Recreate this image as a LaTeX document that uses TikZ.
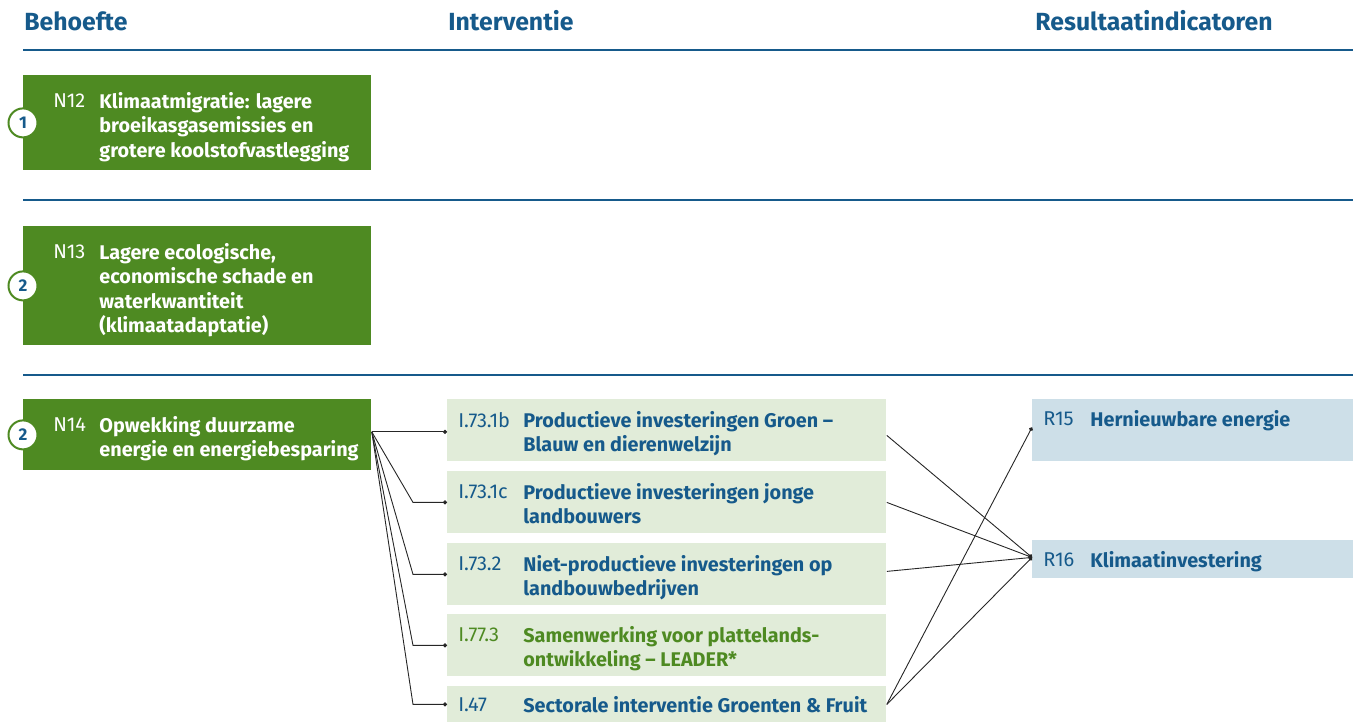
\documentclass[tikz,border=0pt]{standalone}
\usepackage{fontspec}
\setmainfont{Fira Sans}
\usetikzlibrary{positioning,arrows.meta}
\definecolor{rvoblauw}{HTML}{165A8B}
\definecolor{rvogroen}{HTML}{4E8A22}
\definecolor{lichtgroen}{HTML}{E1ECD9}
\definecolor{lichtblauw}{HTML}{CDDFE8}
\begin{document}
\begin{tikzpicture}[x=0.5pt,y=-0.5pt,
	kop/.style={anchor=base west,inner sep=0pt,text=rvoblauw,font=\fontsize{12.4}{14}\selectfont\bfseries},
	lijn/.style={draw=rvoblauw,line width=0.8pt},
	behoefte/.style={fill=rvogroen,anchor=north west,minimum width=174pt,inner sep=0pt},
	interventie/.style={fill=lichtgroen,anchor=north west,minimum width=219.5pt,minimum height=31pt,inner sep=0pt},
	indicator/.style={fill=lichtblauw,anchor=north west,minimum width=160.5pt,inner sep=0pt},
	code/.style={anchor=north west,inner sep=0pt,font=\fontsize{10}{12.25}\selectfont\addfontfeatures{LetterSpace=-1}},
	titel/.style={anchor=north west,inner sep=0pt,align=left,font=\fontsize{9.9}{12.25}\selectfont\bfseries},
	nummer/.style={circle,draw=rvogroen,line width=1pt,fill=white,minimum size=14.5pt,inner sep=0pt,text=rvoblauw,font=\fontsize{8.5}{8}\selectfont\bfseries},
	pijl/.style={draw=black!85,line width=0.45pt,-{Circle[length=2pt]}}]
	\useasboundingbox (0,0) rectangle (1357,722);
	
	% kopjes
	\node[kop] (kbehoefte) at (24,31) {Behoefte};
	\node[kop] (kinterventie) at (448,31) {Interventie};
	\node[kop] (kresultaat) at (1035,31) {Resultaatindicatoren};
	
	% scheidingslijnen
	\draw[lijn] (23,50) -- (1353,50);
	\draw[lijn] (23,200) -- (1353,200);
	\draw[lijn] (23,375) -- (1353,375);
	
	% behoeften
	\node[behoefte,minimum height=47.5pt] (n12) at (23,75) {};
	\node[code,text=white] (n12c) at ([shift={(30,18)}]n12.north west) {N12};
	\node[titel,text=white] (n12t) at ([shift={(76,17)}]n12.north west) {Klimaatmigratie: lagere\\broeikasgasemissies en\\grotere koolstofvastlegging};
	\node[nummer] (n12n) at (n12.west) {1};
	
	\node[behoefte,minimum height=59.5pt] (n13) at (23,226) {};
	\node[code,text=white] (n13c) at ([shift={(30,18)}]n13.north west) {N13};
	\node[titel,text=white] (n13t) at ([shift={(76,17)}]n13.north west) {Lagere ecologische,\\economische schade en\\waterkwantiteit\\(klimaatadaptatie)};
	\node[nummer] (n13n) at (n13.west) {2};
	
	\node[behoefte,minimum height=35.5pt] (n14) at (23,399) {};
	\node[code,text=white] (n14c) at ([shift={(30,18)}]n14.north west) {N14};
	\node[titel,text=white] (n14t) at ([shift={(76,17)}]n14.north west) {Opwekking duurzame\\energie en energiebesparing};
	\node[nummer] (n14n) at (n14.west) {2};
	
	% interventies
	\node[interventie] (i1) at (447,399) {};
	\node[code,text=rvoblauw] (i1c) at ([shift={(11,13)}]i1.north west) {I.73.1b};
	\node[titel,text=rvoblauw] (i1t) at ([shift={(76,12)}]i1.north west) {Productieve investeringen Groen –\\Blauw en dierenwelzijn};
	
	\node[interventie] (i2) at (447,471) {};
	\node[code,text=rvoblauw] (i2c) at ([shift={(11,13)}]i2.north west) {I.73.1c};
	\node[titel,text=rvoblauw] (i2t) at ([shift={(76,12)}]i2.north west) {Productieve investeringen jonge\\landbouwers};
	
	\node[interventie] (i3) at (447,543) {};
	\node[code,text=rvoblauw] (i3c) at ([shift={(11,13)}]i3.north west) {I.73.2};
	\node[titel,text=rvoblauw] (i3t) at ([shift={(76,12)}]i3.north west) {Niet-productieve investeringen op\\landbouwbedrijven};
	
	\node[interventie] (i4) at (447,614) {};
	\node[code,text=rvogroen] (i4c) at ([shift={(11,13)}]i4.north west) {I.77.3};
	\node[titel,text=rvogroen] (i4t) at ([shift={(76,12)}]i4.north west) {Samenwerking voor plattelands-\\ontwikkeling – LEADER*};
	
	\node[interventie,minimum height=18pt] (i5) at (447,686) {};
	\node[code,text=rvoblauw] (i5c) at ([shift={(11,11)}]i5.north west) {I.47};
	\node[titel,text=rvoblauw] (i5t) at ([shift={(76,10)}]i5.north west) {Sectorale interventie Groenten \& Fruit};
	
	% resultaatindicatoren
	\node[indicator,minimum height=31pt] (r15) at (1032,399) {};
	\node[code,text=rvoblauw] (r15c) at ([shift={(11,12)}]r15.north west) {R15};
	\node[titel,text=rvoblauw] (r15t) at ([shift={(58,11)}]r15.north west) {Hernieuwbare energie};
	
	\node[indicator,minimum height=19pt] (r16) at (1032,540) {};
	\node[code,text=rvoblauw] (r16c) at ([shift={(11,12)}]r16.north west) {R16};
	\node[titel,text=rvoblauw] (r16t) at ([shift={(58,11)}]r16.north west) {Klimaatinvestering};
	
	% verbindingen behoefte - interventie
	\coordinate (s14) at ([yshift=1.5pt]n14.east);
	\draw[pijl] (s14) -- (s14 -| i1.west);
	\draw[pijl] (s14) -- ([xshift=-17pt]i2.west) -- (i2.west);
	\draw[pijl] (s14) -- ([xshift=-17pt]i3.west) -- (i3.west);
	\draw[pijl] (s14) -- ([xshift=-17pt]i4.west) -- (i4.west);
	\draw[pijl] (s14) -- ([xshift=-17pt]i5.west) -- (i5.west);
	
	% verbindingen interventie - resultaat
	\draw[pijl] ([yshift=-2.5pt]i1.east) -- ([yshift=1pt]r16.west);
	\draw[pijl] (i2.east) -- ([yshift=1pt]r16.west);
	\draw[pijl] ([yshift=1.5pt]i3.east) -- ([yshift=1pt]r16.west);
	\draw[pijl] (i5.east) -- ([yshift=1.5pt]r15.west);
	\draw[pijl] (i5.east) -- ([yshift=1pt]r16.west);
\end{tikzpicture}
\end{document}
